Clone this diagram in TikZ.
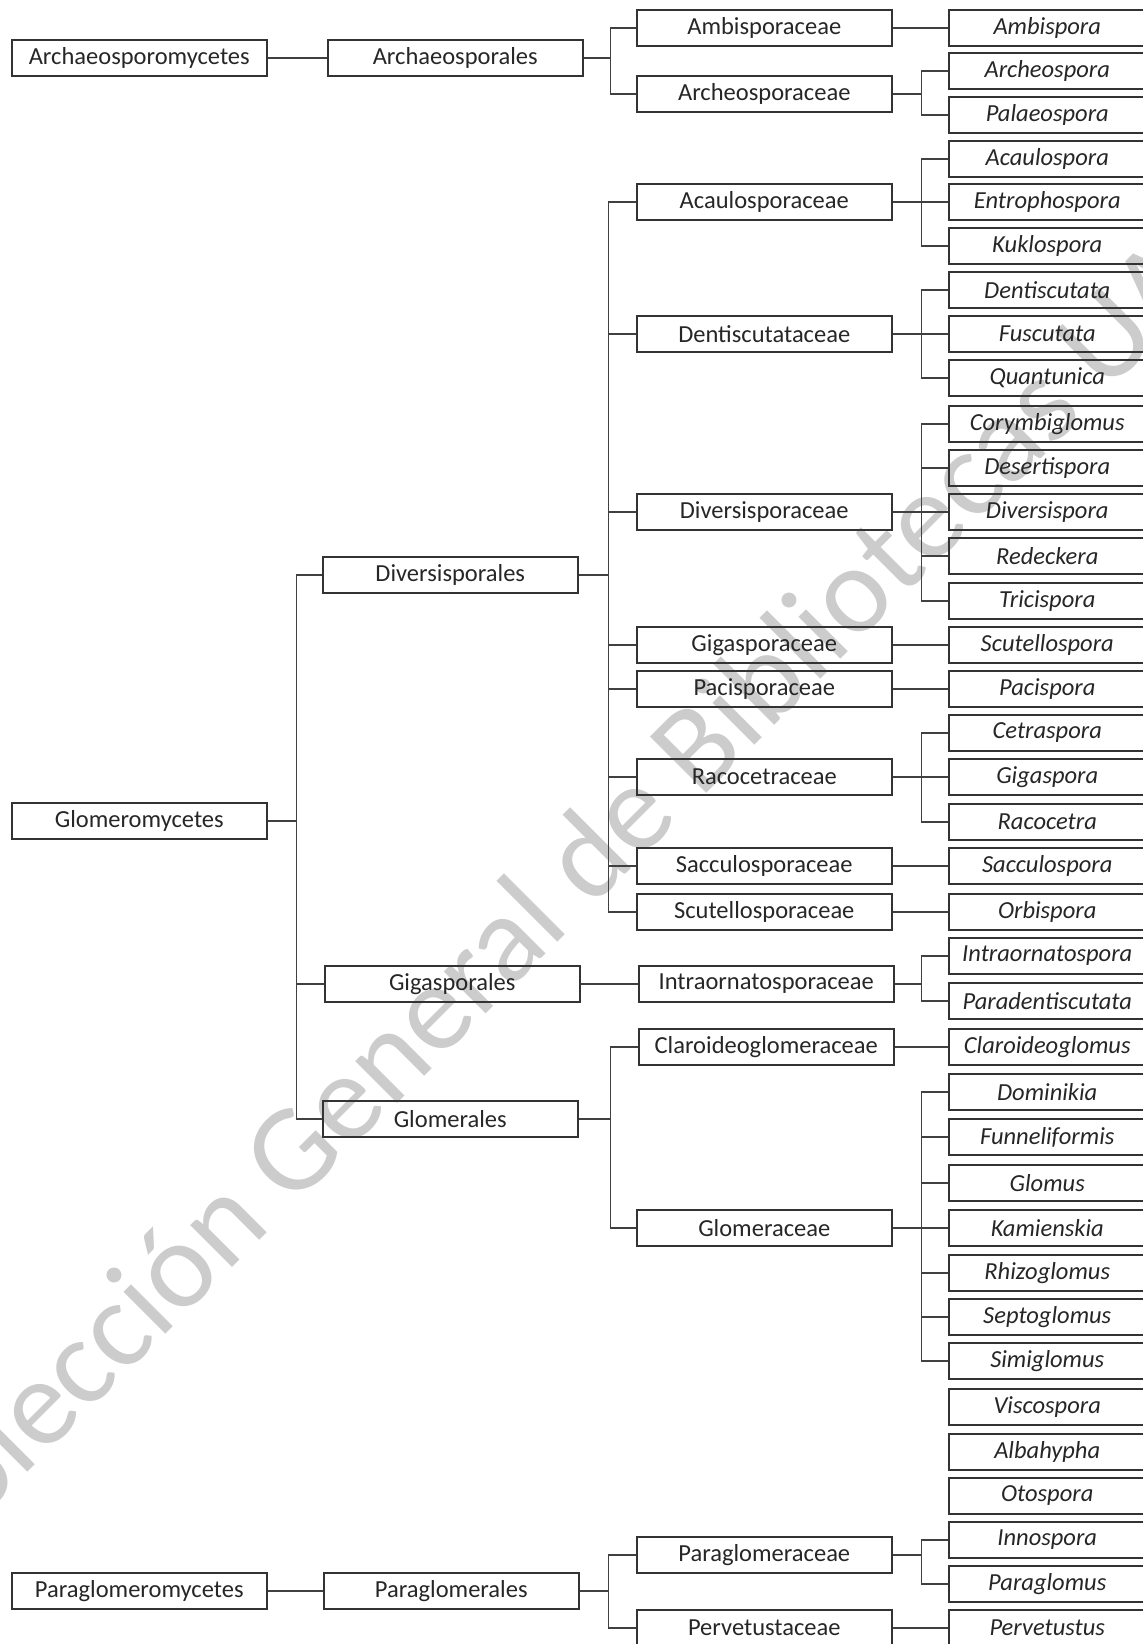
\documentclass[tikz,border=0pt]{standalone}
\usepackage{fontspec}
\setmainfont{Carlito}

\begin{document}
\begin{tikzpicture}[x=1pt, y=-1pt,
		taxon/.style={draw=black!80, line width=1.5pt, rectangle, minimum width=255pt, minimum height=36pt, inner sep=0pt, anchor=west, text=black!85, font=\fontsize{24.5}{28}\selectfont},
		genus/.style={taxon, minimum width=197pt, font=\fontsize{24.5}{28}\selectfont\itshape},
		link/.style={draw=black!75, line width=1.5pt}]
		\useasboundingbox (0,0) rectangle (1143,1644);
		% watermark
		\node [text=black!20, rotate=45, anchor=base, font=\fontsize{124}{126}\selectfont] (mark) at (570,930) {Colección General de Bibliotecas UA};

		% classes
		\node [taxon] (archaeosporomycetes) at (11,58) {Archaeosporomycetes};
		\node [taxon] (glomeromycetes) at (11,821) {Glomeromycetes};
		\node [taxon] (paraglomeromycetes) at (11,1591) {Paraglomeromycetes};

		% orders
		\node [taxon] (archaeosporales) at (327,58) {Archaeosporales};
		\node [taxon] (diversisporales) at (322,575) {Diversisporales};
		\node [taxon] (gigasporales) at (324,984) {Gigasporales};
		\node [taxon] (glomerales) at (322,1119) {Glomerales};
		\node [taxon] (paraglomerales) at (323,1591) {Paraglomerales};

		% families
		\node [taxon] (ambisporaceae) at (636,28) {Ambisporaceae};
		\node [taxon] (archeosporaceae) at (636,94) {Archeosporaceae};
		\node [taxon] (acaulosporaceae) at (636,202) {Acaulosporaceae};
		\node [taxon] (dentiscutataceae) at (636,334) {Dentiscutataceae};
		\node [taxon] (diversisporaceae) at (636,512) {Diversisporaceae};
		\node [taxon] (gigasporaceae) at (636,645) {Gigasporaceae};
		\node [taxon] (pacisporaceae) at (636,689) {Pacisporaceae};
		\node [taxon] (racocetraceae) at (636,777) {Racocetraceae};
		\node [taxon] (sacculosporaceae) at (636,866) {Sacculosporaceae};
		\node [taxon] (scutellosporaceae) at (636,912) {Scutellosporaceae};
		\node [taxon] (intraornatosporaceae) at (638,984) {Intraornatosporaceae};
		\node [taxon] (claroideoglomeraceae) at (638,1047) {Claroideoglomeraceae};
		\node [taxon] (glomeraceae) at (636,1228) {Glomeraceae};
		\node [taxon] (paraglomeraceae) at (636,1555) {Paraglomeraceae};
		\node [taxon] (pervetustaceae) at (636,1628) {Pervetustaceae};

		% genera
		\node [genus] (ambispora) at (948,28) {Ambispora};
		\node [genus] (archeospora) at (948,71) {Archeospora};
		\node [genus] (palaeospora) at (948,115) {Palaeospora};
		\node [genus] (acaulospora) at (948,159) {Acaulospora};
		\node [genus] (entrophospora) at (948,202) {Entrophospora};
		\node [genus] (kuklospora) at (948,246) {Kuklospora};
		\node [genus] (dentiscutata) at (948,290) {Dentiscutata};
		\node [genus] (fuscutata) at (948,334) {Fuscutata};
		\node [genus] (quantunica) at (948,378) {Quantunica};
		\node [genus] (corymbiglomus) at (948,424) {Corymbiglomus};
		\node [genus] (desertispora) at (948,468) {Desertispora};
		\node [genus] (diversispora) at (948,512) {Diversispora};
		\node [genus] (redeckera) at (948,556) {Redeckera};
		\node [genus] (tricispora) at (948,601) {Tricispora};
		\node [genus] (scutellospora) at (948,645) {Scutellospora};
		\node [genus] (pacispora) at (948,689) {Pacispora};
		\node [genus] (cetraspora) at (948,733) {Cetraspora};
		\node [genus] (gigaspora) at (948,777) {Gigaspora};
		\node [genus] (racocetra) at (948,822) {Racocetra};
		\node [genus] (sacculospora) at (948,866) {Sacculospora};
		\node [genus] (orbispora) at (948,912) {Orbispora};
		\node [genus] (intraornatospora) at (948,956) {Intraornatospora};
		\node [genus] (paradentiscutata) at (948,1001) {Paradentiscutata};
		\node [genus] (claroideoglomus) at (948,1047) {Claroideoglomus};
		\node [genus] (dominikia) at (948,1092) {Dominikia};
		\node [genus] (funneliformis) at (948,1137) {Funneliformis};
		\node [genus] (glomus) at (948,1183) {Glomus};
		\node [genus] (kamienskia) at (948,1228) {Kamienskia};
		\node [genus] (rhizoglomus) at (948,1273) {Rhizoglomus};
		\node [genus] (septoglomus) at (948,1317) {Septoglomus};
		\node [genus] (simiglomus) at (948,1361) {Simiglomus};
		\node [genus] (viscospora) at (948,1407) {Viscospora};
		\node [genus] (albahypha) at (948,1452) {Albahypha};
		\node [genus] (otospora) at (948,1496) {Otospora};
		\node [genus] (innospora) at (948,1540) {Innospora};
		\node [genus] (paraglomus) at (948,1584) {Paraglomus};
		\node [genus] (pervetustus) at (948,1628) {Pervetustus};

		% class to order
		\draw [link] (archaeosporomycetes) -- (archaeosporales);
		\draw [link] (glomeromycetes.east) -- ++(29,0) |- (diversisporales.west);
		\draw [link] (glomeromycetes.east) -- ++(29,0) |- (gigasporales.west);
		\draw [link] (glomeromycetes.east) -- ++(29,0) |- (glomerales.west);
		\draw [link] (paraglomeromycetes) -- (paraglomerales);

		% order to family
		\draw [link] (archaeosporales.east) -- ++(27,0) |- (ambisporaceae.west);
		\draw [link] (archaeosporales.east) -- ++(27,0) |- (archeosporaceae.west);
		\draw [link] (diversisporales.east) -- ++(30,0) |- (acaulosporaceae.west);
		\draw [link] (diversisporales.east) -- ++(30,0) |- (dentiscutataceae.west);
		\draw [link] (diversisporales.east) -- ++(30,0) |- (diversisporaceae.west);
		\draw [link] (diversisporales.east) -- ++(30,0) |- (gigasporaceae.west);
		\draw [link] (diversisporales.east) -- ++(30,0) |- (pacisporaceae.west);
		\draw [link] (diversisporales.east) -- ++(30,0) |- (racocetraceae.west);
		\draw [link] (diversisporales.east) -- ++(30,0) |- (sacculosporaceae.west);
		\draw [link] (diversisporales.east) -- ++(30,0) |- (scutellosporaceae.west);
		\draw [link] (gigasporales) -- (intraornatosporaceae);
		\draw [link] (glomerales.east) -- ++(32,0) |- (claroideoglomeraceae.west);
		\draw [link] (glomerales.east) -- ++(32,0) |- (glomeraceae.west);
		\draw [link] (paraglomerales.east) -- ++(29,0) |- (paraglomeraceae.west);
		\draw [link] (paraglomerales.east) -- ++(29,0) |- (pervetustaceae.west);

		% family to genus
		\draw [link] (ambisporaceae) -- (ambispora);
		\draw [link] (archeosporaceae.east) -- ++(29,0) |- (archeospora.west);
		\draw [link] (archeosporaceae.east) -- ++(29,0) |- (palaeospora.west);
		\draw [link] (acaulosporaceae.east) -- ++(29,0) |- (acaulospora.west);
		\draw [link] (acaulosporaceae.east) -- ++(29,0) |- (entrophospora.west);
		\draw [link] (acaulosporaceae.east) -- ++(29,0) |- (kuklospora.west);
		\draw [link] (dentiscutataceae.east) -- ++(29,0) |- (dentiscutata.west);
		\draw [link] (dentiscutataceae.east) -- ++(29,0) |- (fuscutata.west);
		\draw [link] (dentiscutataceae.east) -- ++(29,0) |- (quantunica.west);
		\draw [link] (diversisporaceae.east) -- ++(29,0) |- (corymbiglomus.west);
		\draw [link] (diversisporaceae.east) -- ++(29,0) |- (desertispora.west);
		\draw [link] (diversisporaceae.east) -- ++(29,0) |- (diversispora.west);
		\draw [link] (diversisporaceae.east) -- ++(29,0) |- (redeckera.west);
		\draw [link] (diversisporaceae.east) -- ++(29,0) |- (tricispora.west);
		\draw [link] (gigasporaceae) -- (scutellospora);
		\draw [link] (pacisporaceae) -- (pacispora);
		\draw [link] (racocetraceae.east) -- ++(29,0) |- (cetraspora.west);
		\draw [link] (racocetraceae.east) -- ++(29,0) |- (gigaspora.west);
		\draw [link] (racocetraceae.east) -- ++(29,0) |- (racocetra.west);
		\draw [link] (sacculosporaceae) -- (sacculospora);
		\draw [link] (scutellosporaceae) -- (orbispora);
		\draw [link] (intraornatosporaceae.east) -- ++(27,0) |- (intraornatospora.west);
		\draw [link] (intraornatosporaceae.east) -- ++(27,0) |- (paradentiscutata.west);
		\draw [link] (claroideoglomeraceae) -- (claroideoglomus);
		\draw [link] (glomeraceae.east) -- ++(29,0) |- (dominikia.west);
		\draw [link] (glomeraceae.east) -- ++(29,0) |- (funneliformis.west);
		\draw [link] (glomeraceae.east) -- ++(29,0) |- (glomus.west);
		\draw [link] (glomeraceae.east) -- ++(29,0) |- (kamienskia.west);
		\draw [link] (glomeraceae.east) -- ++(29,0) |- (rhizoglomus.west);
		\draw [link] (glomeraceae.east) -- ++(29,0) |- (septoglomus.west);
		\draw [link] (glomeraceae.east) -- ++(29,0) |- (simiglomus.west);
		\draw [link] (paraglomeraceae.east) -- ++(29,0) |- (innospora.west);
		\draw [link] (paraglomeraceae.east) -- ++(29,0) |- (paraglomus.west);
		\draw [link] (pervetustaceae) -- (pervetustus);
\end{tikzpicture}
\end{document}
